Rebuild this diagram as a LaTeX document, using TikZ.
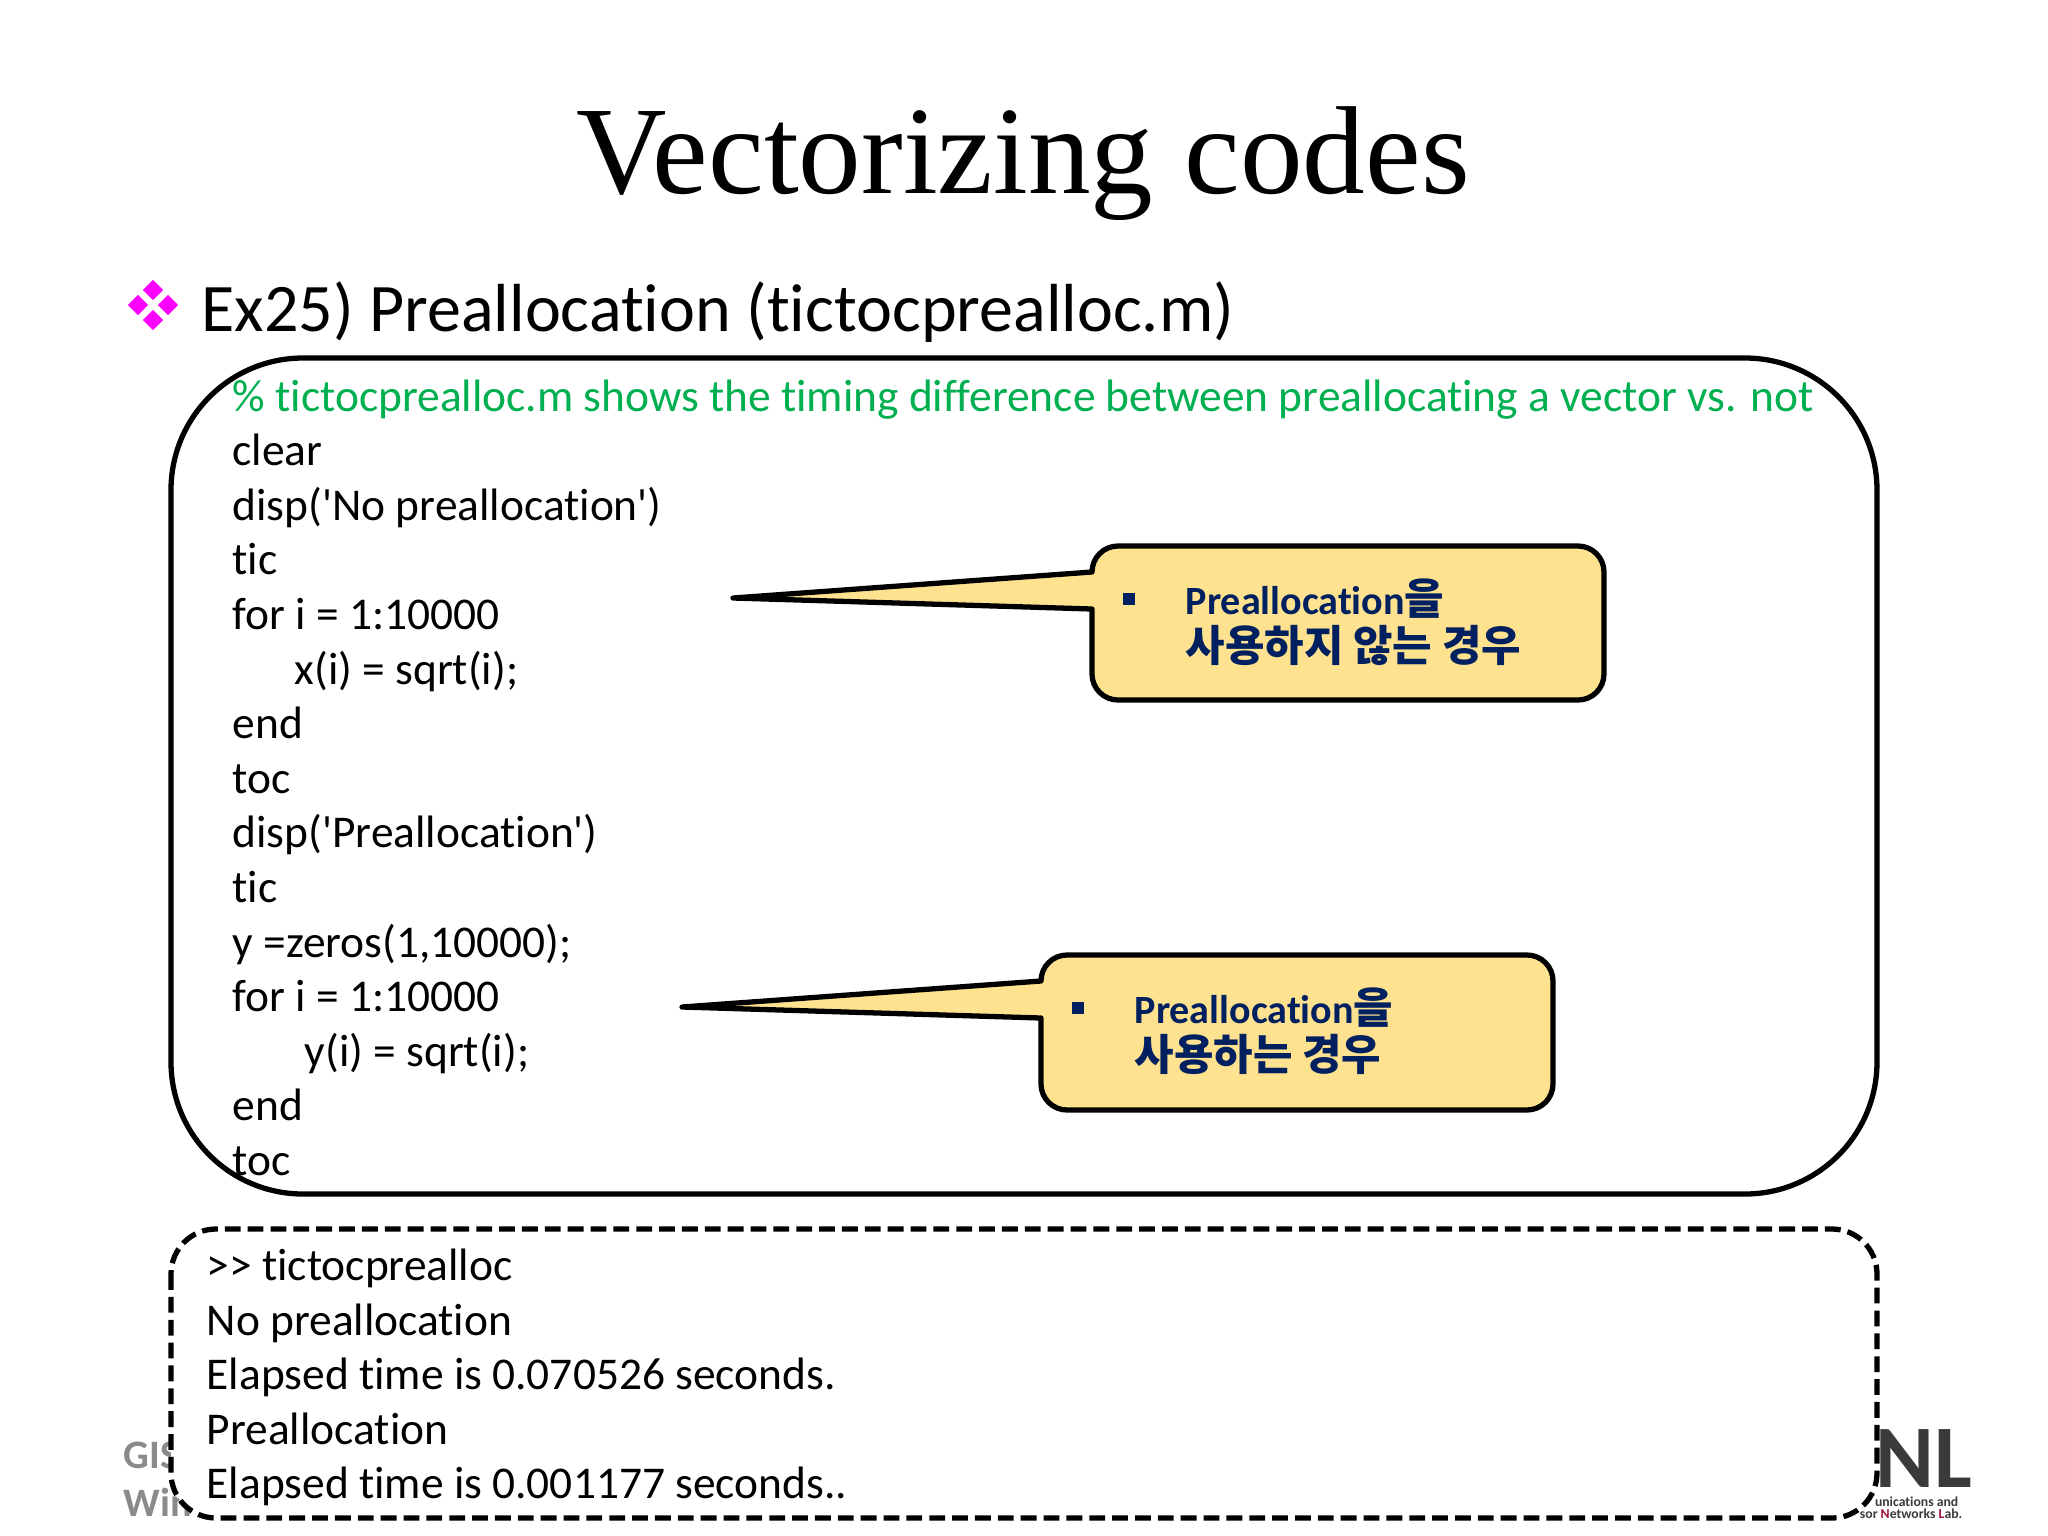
\documentclass[tikz,border=0pt]{standalone}
\usepackage{fontspec}
\usetikzlibrary{shapes.geometric}
\setmainfont{Liberation Serif}
\newfontfamily\bodyfont[Ligatures=NoCommon]{Carlito}
\newfontfamily\krfont{Noto Sans CJK KR}
\newcommand{\krbig}{\krfont\fontsize{12.2}{14}\selectfont}
\definecolor{commentgreen}{HTML}{00B050}
\definecolor{calloutfill}{HTML}{FFE28F}
\definecolor{calloutnavy}{HTML}{002060}
\definecolor{footgray}{HTML}{8A8A8A}
\definecolor{logogray}{HTML}{3A3A3C}
\definecolor{logored}{HTML}{A0143C}
\definecolor{petalpink}{HTML}{FF00FF}
\tikzset{
    textline/.style = {anchor = base west, inner sep = 0pt, font = \bodyfont\fontsize{12.92}{15}\selectfont},
    callouttext/.style = {anchor = base west, inner sep = 0pt, text = calloutnavy, font = \bodyfont\bfseries\fontsize{11.4}{13}\selectfont},
    callout/.style = {draw = black, fill = calloutfill, line width = 1.5pt, line join = round, rounded corners = 0.26cm},
    petal/.style = {diamond, fill = petalpink, inner sep = 0pt, minimum size = 0.21cm},
    foot/.style = {anchor = base west, inner sep = 0pt, text = footgray, font = \bodyfont\bfseries\fontsize{11.5}{13}\selectfont},
    logotext/.style = {anchor = base east, inner sep = 0pt, text = logogray, font = \bodyfont\bfseries\fontsize{3.9}{4}\selectfont}
}
\begin{document}
\begin{tikzpicture}[x = 0.01cm, y = -0.01cm]
    \useasboundingbox (0,0) rectangle (2048,1536);
    \node[inner sep = 0pt, anchor = base, font = \fontsize{35.6}{40}\selectfont] (title) at (1023,193) {Vectorizing codes};
    \foreach \i/\dx/\dy in {1/0/-15, 2/15/0, 3/0/15, 4/-15/0} {
        \node[petal] (petal\i) at (153+\dx,305+\dy) {};
    }
    \node[textline, font = \bodyfont\fontsize{19.35}{22}\selectfont] (heading) at (201,331) {Ex25) Preallocation (tictocprealloc.m)};

    % footer and logo
    \node[foot] (foota) at (123,1468) {GIS};
    \node[foot] (footb) at (123,1516) {Win};
    \node[anchor = base west, inner sep = 0pt, text = logogray, font = \bodyfont\bfseries\fontsize{25.4}{27}\selectfont] (logo) at (1875,1487) {NL};
    \node[logotext] (logoa) at (1959,1506) {unications and};
    \node[logotext] (logob) at (1963,1518) {sor {\color{logored}N}etworks {\color{logored}L}ab.};

    \draw[line width = 1.5pt, fill = white, rounded corners = 1.32cm] (171,358) rectangle (1877,1194);
    \draw[line width = 1.5pt, fill = white, dash pattern = on 4.5pt off 2pt, rounded corners = 0.45cm] (171,1229) rectangle (1877,1518);

    \begin{scope}[every node/.append style = {textline}]
        \node[text = commentgreen] (code0) at (232,411) {\% tictocprealloc.m shows the timing difference between preallocating a vector vs. not};
        \node (code1) at (232,465.6) {clear};
        \node (code2) at (232,520.2) {disp('No preallocation')};
        \node (code3) at (232,574.8) {tic};
        \node (code4) at (232,629.4) {for i = 1:10000};
        \node (code5) at (294,684) {x(i) = sqrt(i);};
        \node (code6) at (232,738.6) {end};
        \node (code7) at (232,793.2) {toc};
        \node (code8) at (232,847.8) {disp('Preallocation')};
        \node (code9) at (232,902.4) {tic};
        \node (code10) at (232,957) {y =zeros(1,10000);};
        \node (code11) at (232,1011.6) {for i = 1:10000};
        \node (code12) at (304,1066.2) {y(i) = sqrt(i);};
        \node (code13) at (232,1120.8) {end};
        \node (code14) at (232,1175.4) {toc};
    \end{scope}

    \begin{scope}[every node/.append style = {textline}]
        \node (out0) at (206,1280.5) {>{}> tictocprealloc};
        \node (out1) at (206,1335.1) {No preallocation};
        \node (out2) at (206,1389.7) {Elapsed time is 0.070526 seconds.};
        \node (out3) at (206,1444.3) {Preallocation};
        \node (out4) at (206,1498.9) {Elapsed time is 0.001177 seconds..};
    \end{scope}

    \draw[callout] (1092,572) -- (1092,546) -- (1604,546) -- (1604,700) -- (1092,700)
        [sharp corners] -- (1092,609) -- (733,598) -- (1092,572) -- cycle;
    \fill[calloutnavy] (1123,593) rectangle (1135,605);
    \node[callouttext] (notea) at (1185,614) {Preallocation{\krbig 을}};
    \node[callouttext] (noteb) at (1185,661) {\krbig 사용하지 않는 경우};

    \draw[callout] (1041,981) -- (1041,955) -- (1553,955) -- (1553,1110) -- (1041,1110)
        [sharp corners] -- (1041,1018) -- (682,1007) -- (1041,981) -- cycle;
    \fill[calloutnavy] (1072,1002) rectangle (1084,1014);
    \node[callouttext] (notec) at (1134,1023) {Preallocation{\krbig 을}};
    \node[callouttext] (noted) at (1134,1070) {\krbig 사용하는 경우};
\end{tikzpicture}
\end{document}
